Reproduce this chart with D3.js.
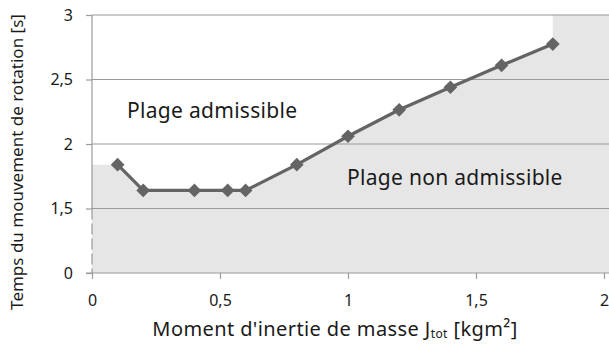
<!DOCTYPE html>
<html>
<head>
<meta charset="utf-8">
<script src="https://cdn.jsdelivr.net/npm/d3@7"></script>
<style>
  html, body { margin: 0; padding: 0; background: #fff; }
  svg { display: block; }
  text { font-family: "Noto Sans", "DejaVu Sans", sans-serif; fill: #1a1a1a; }
</style>
</head>
<body>
<svg id="chart" width="609" height="350"></svg>
<script>
// Moment of inertia [kgm²] and rotation time [s]
const inertia = [0.1, 0.2, 0.4, 0.53, 0.6, 0.8, 1.0, 1.2, 1.4, 1.6, 1.8];
const rotTime = [1.84, 1.64, 1.64, 1.64, 1.64, 1.84, 2.06, 2.265, 2.44, 2.61, 2.775];

// Broken y axis: the lowest tick stands for 0, the others are true values
const yTickValues = [1, 1.5, 2, 2.5, 3];
const yTickLabels = ["0", "1,5", "2", "2,5", "3"];
const xTickValues = [0, 0.5, 1, 1.5, 2];
const xTickLabels = ["0", "0,5", "1", "1,5", "2"];

const svg = d3.select("#chart");
const W = 609;

const x = d3.scaleLinear().domain([0, 2]).range([92, 604]);
const y = d3.scaleLinear().domain([1, 3]).range([273, 15]);

const gridColor = "#9a9a9a";
const lineColor = "#646464";
const shadeColor = "#e6e6e7";

// Non-admissible region: below the curve, and the full height past the last point
const last = inertia.length - 1;
const shade = [[0, rotTime[0]]]
  .concat(inertia.map((d, i) => [d, rotTime[i]]))
  .concat([[inertia[last], 3], [2, 3], [2, 1], [0, 1]]);
svg.append("path")
  .attr("d", d3.line().x(d => x(d[0])).y(d => y(d[1]))(shade) + "Z")
  .attr("fill", shadeColor);
// carry the shade on to the right edge
svg.append("rect")
  .attr("x", x(2)).attr("y", y(3))
  .attr("width", W - x(2)).attr("height", y(1) - y(3))
  .attr("fill", shadeColor);

// Horizontal gridlines
svg.append("g").selectAll("line")
  .data(yTickValues.slice(1))
  .join("line")
  .attr("x1", x(0)).attr("x2", W)
  .attr("y1", d => y(d)).attr("y2", d => y(d))
  .attr("stroke", gridColor).attr("stroke-width", 1.2);

// Y axis
const yAxis = d3.axisLeft(y).tickValues(yTickValues)
  .tickFormat((d, i) => yTickLabels[i]).tickSize(6).tickPadding(13);
const gy = svg.append("g").attr("transform", `translate(${x(0)},0)`).call(yAxis);
gy.select(".domain").remove();
gy.selectAll(".tick line").attr("stroke", gridColor).attr("stroke-width", 1.2);
gy.selectAll(".tick text").style("font-size", "16px").attr("fill", "#1a1a1a");

// Vertical axis line, dashed across the break
svg.append("line")
  .attr("x1", x(0)).attr("x2", x(0))
  .attr("y1", y(3)).attr("y2", y(1.5))
  .attr("stroke", gridColor).attr("stroke-width", 1.2);
svg.append("line")
  .attr("x1", x(0)).attr("x2", x(0))
  .attr("y1", y(1.5)).attr("y2", y(1))
  .attr("stroke", gridColor).attr("stroke-width", 1.2)
  .attr("stroke-dasharray", "11,4");

// X axis
const xAxis = d3.axisBottom(x).tickValues(xTickValues)
  .tickFormat((d, i) => xTickLabels[i]).tickSize(6).tickPadding(16);
const gx = svg.append("g").attr("transform", `translate(0,${y(1)})`).call(xAxis);
gx.select(".domain").remove();
gx.selectAll(".tick line").attr("stroke", gridColor).attr("stroke-width", 1.2);
gx.selectAll(".tick text").style("font-size", "16px").attr("fill", "#1a1a1a");
svg.append("line")
  .attr("x1", x(0) - 6).attr("x2", W)
  .attr("y1", y(1)).attr("y2", y(1))
  .attr("stroke", gridColor).attr("stroke-width", 1.2);

// Data line and diamond markers
const pts = inertia.map((d, i) => [d, rotTime[i]]);
svg.append("path")
  .datum(pts)
  .attr("d", d3.line().x(d => x(d[0])).y(d => y(d[1])))
  .attr("fill", "none").attr("stroke", lineColor).attr("stroke-width", 3.2);
svg.append("g").selectAll("path")
  .data(pts)
  .join("path")
  .attr("d", d3.symbol(d3.symbolDiamond2, 120))
  .attr("transform", d => `translate(${x(d[0])},${y(d[1])})`)
  .attr("fill", lineColor);

// Region labels
svg.append("text").attr("x", 127).attr("y", 118)
  .style("font-size", "21px").style("letter-spacing", "0.3px").text("Plage admissible");
svg.append("text").attr("x", 347).attr("y", 185)
  .style("font-size", "21px").style("letter-spacing", "0.3px").text("Plage non admissible");

// Axis titles
const xt = svg.append("text").attr("x", 335).attr("y", 336)
  .attr("text-anchor", "middle").style("font-size", "20px").style("letter-spacing", "0.4px");
xt.append("tspan").text("Moment d'inertie de masse J");
xt.append("tspan").style("font-size", "12px").attr("dy", 2).text("tot");
xt.append("tspan").attr("dy", -2).text(" [kgm²]");

svg.append("text")
  .attr("transform", "translate(23,162) rotate(-90)")
  .attr("text-anchor", "middle").style("font-size", "17px")
  .text("Temps du mouvement de rotation [s]");
</script>
</body>
</html>
